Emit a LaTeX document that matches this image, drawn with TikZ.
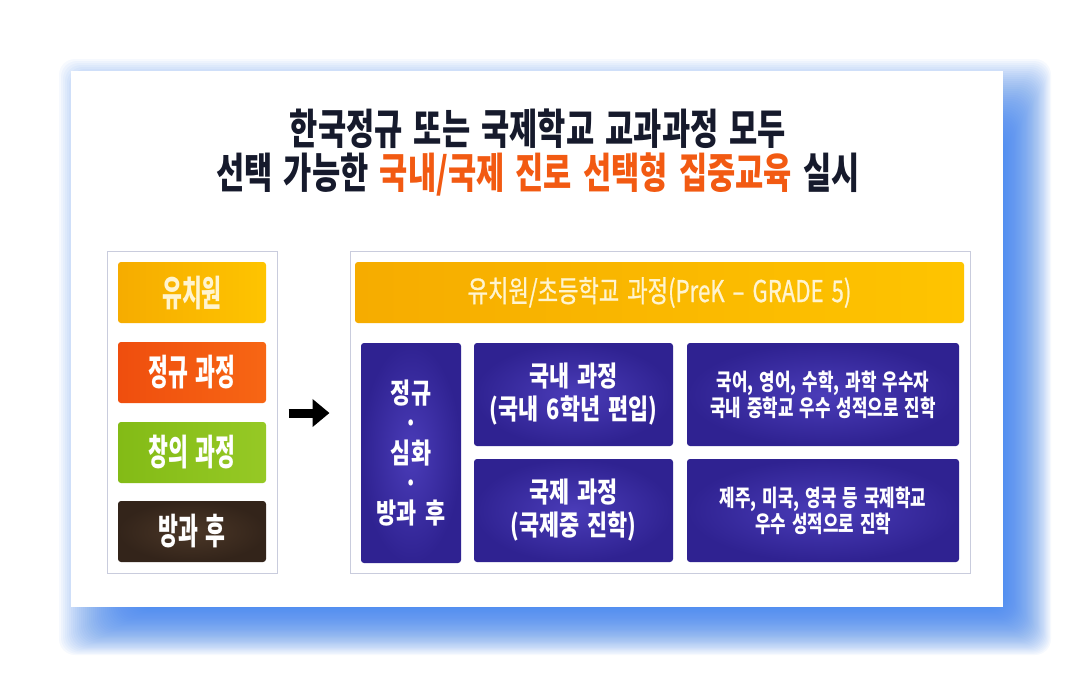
\documentclass[tikz,border=0pt]{standalone}
\usepackage{fontspec}
\usetikzlibrary{arrows.meta}
\newfontfamily\fnttitle[FakeStretch=0.73,WordSpace=2.2]{Noto Sans CJK KR}
\newfontfamily\fntleft[FakeStretch=0.60,WordSpace=1.5]{Noto Sans CJK KR}
\newfontfamily\fntbar[FakeStretch=0.74,WordSpace=1.6,FakeBold=0.8]{Noto Sans CJK KR}
\newfontfamily\fntmid[FakeStretch=0.78,WordSpace=1.6]{Noto Sans CJK KR}
\newfontfamily\fntsmall[FakeStretch=0.73,WordSpace=1.6]{Noto Sans CJK KR}
\definecolor{glowblue}{HTML}{3C82F0}
\definecolor{titledark}{HTML}{161A2C}
\definecolor{titleorange}{HTML}{F25A12}
\definecolor{frameline}{HTML}{C9CCDD}
\definecolor{yelL}{HTML}{F6AC00}
\definecolor{yelR}{HTML}{FEC400}
\definecolor{redL}{HTML}{EF4E0E}
\definecolor{redR}{HTML}{F76614}
\definecolor{grnL}{HTML}{83BB16}
\definecolor{grnR}{HTML}{96C925}
\definecolor{brnC}{HTML}{4B3727}
\definecolor{brnE}{HTML}{33241A}
\definecolor{purC}{HTML}{4A3CB8}
\definecolor{purE}{HTML}{2F2291}
\definecolor{creamtxt}{HTML}{FFF4CF}
\tikzset{
  frame/.style={draw=frameline, line width=1pt, fill=white, rectangle, inner sep=0pt},
  tile/.style={rectangle, rounded corners=3pt, inner sep=0pt, align=center, text=white},
  lefttile/.style={tile, minimum width=148pt, minimum height=61pt,
     font=\fntleft\bfseries\fontsize{36}{40}\selectfont},
  purple/.style={tile, shading=radial, inner color=purC, outer color=purE},
  midtext/.style={font=\fntmid\bfseries\fontsize{28}{33}\selectfont},
  coltext/.style={font=\fntmid\bfseries\fontsize{28}{30}\selectfont},
  smalltext/.style={font=\fntsmall\bfseries\fontsize{23}{26}\selectfont},
  bigarrow/.style={line width=9pt, -{Triangle[length=17pt,width=27pt]}, black}
}
\begin{document}
\begin{tikzpicture}[x=1pt,y=-1pt]
\useasboundingbox (0,0) rectangle (1092,697);
\fill[white] (0,0) rectangle (1092,697);
% blue glow around the card
\foreach \i in {1,...,40}{
  \fill[glowblue, opacity=0.045, rounded corners=16pt]
    ({71-2*(\i-34)},{71-2*(\i-34)}) rectangle ({1003+1.2*\i},{607+1.2*\i});
}
\node[rectangle, fill=white, inner sep=0pt, minimum width=932pt, minimum height=536pt] (card) at (537,339) {};
% title
\node[align=center, text=titledark, font=\fnttitle\bfseries\fontsize{42}{44}\selectfont] (title) at (538,153)
  {한국정규 또는 국제학교 교과과정 모두\\선택 가능한 \textcolor{titleorange}{국내/국제 진로 선택형 집중교육} 실시};
% frames
\node[frame, minimum width=170pt, minimum height=322pt] (lframe) at (192,412) {};
\node[frame, minimum width=620pt, minimum height=322pt] (rframe) at (660,412) {};
% left tiles
\node[lefttile, left color=yelL, right color=yelR, text=creamtxt] (kg) at (192,292.5) {유치원};
\node[lefttile, left color=redL, right color=redR] (reg) at (192,372.5) {정규 과정};
\node[lefttile, left color=grnL, right color=grnR] (cre) at (192,452.5) {창의 과정};
\node[lefttile, shading=radial, inner color=brnC, outer color=brnE] (after) at (192,531.5) {방과 후};
% arrow
\draw[bigarrow] ([xshift=11pt,yshift=-1pt]lframe.east) -- ([xshift=-20pt,yshift=-1pt]rframe.west);
% right side
\node[tile, left color=yelL, right color=yelR, text=creamtxt, minimum width=609pt, minimum height=61pt,
  font=\fntbar\fontsize{30}{34}\selectfont] (bar) at (659.5,292.5) {유치원/초등학교 과정(PreK – GRADE 5)};
\node[purple, coltext, minimum width=100pt, minimum height=220pt] (col1) at (411,453)
  {정규\\·\\심화\\·\\방과 후};
\node[purple, midtext, minimum width=199pt, minimum height=103pt] (dom) at (573.5,394.5)
  {국내 과정\\(국내 6학년 편입)};
\node[purple, midtext, minimum width=199pt, minimum height=103pt] (intl) at (573.5,510.5)
  {국제 과정\\(국제중 진학)};
\node[purple, smalltext, minimum width=272pt, minimum height=103pt] (domres) at (823,394.5)
  {국어, 영어, 수학, 과학 우수자\\국내 중학교 우수 성적으로 진학};
\node[purple, smalltext, minimum width=272pt, minimum height=103pt] (intlres) at (823,510.5)
  {제주, 미국, 영국 등 국제학교\\우수 성적으로 진학};
\end{tikzpicture}
\end{document}
